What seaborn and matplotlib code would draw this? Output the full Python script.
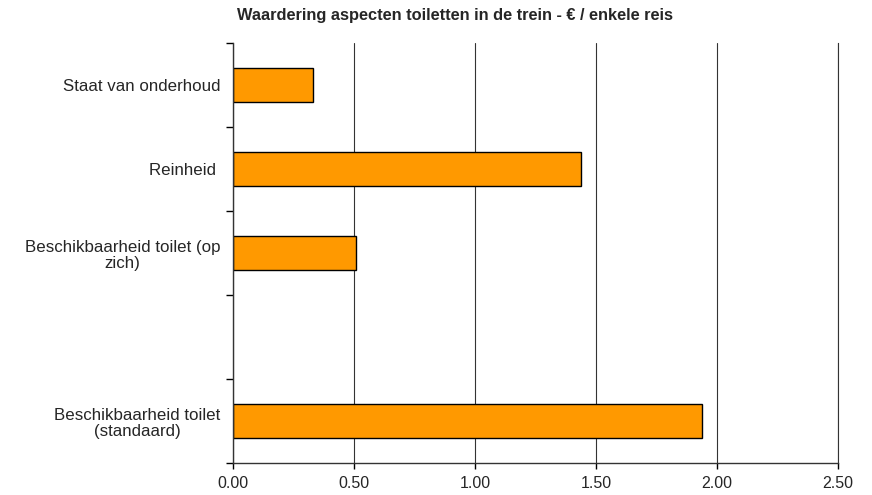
import pandas as pd
import seaborn as sns
import matplotlib.pyplot as plt
import numpy as np

# waarden (EUR per enkele reis)
aspecten = ['Staat van onderhoud', 'Reinheid ', 'Beschikbaarheid toilet (op\nzich)', ' ',
            'Beschikbaarheid toilet\n(standaard)']
waarde = [0.33, 1.44, 0.51, np.nan, 1.94]
x_ticks = [0.0, 0.5, 1.0, 1.5, 2.0, 2.5]
titel = 'Waardering aspecten toiletten in de trein - € / enkele reis'

df = pd.DataFrame({'aspect': aspecten, 'waarde': waarde})

sns.set_style('white')
plt.rcParams['font.family'] = ['Liberation Sans', 'DejaVu Sans']

fig = plt.figure(figsize=(8.72, 4.95), dpi=100)
ax = fig.add_axes([0.267, 0.0646, 0.694, 0.8485])

sns.barplot(data=df, x='waarde', y='aspect', order=aspecten, orient='h',
            color='#FF9900', saturation=1, width=0.4, edgecolor='black',
            linewidth=1, ax=ax)

ax.set_xlim(0, 2.5)
ax.set_ylim(4.5, -0.5)
ax.set_xticks(x_ticks)
ax.set_xticklabels([f'{v:.2f}' for v in x_ticks], fontsize=11.5)
ax.set_yticks(range(len(aspecten)))
ax.set_yticklabels(aspecten, fontsize=12.2, multialignment='center', linespacing=1.12)
ax.set_yticks(np.arange(-0.5, len(aspecten), 1), minor=True)
ax.tick_params(axis='y', which='major', length=0, pad=9)
ax.tick_params(axis='y', which='minor', length=5, width=1, color='black', direction='out', left=True)
ax.tick_params(axis='x', length=4, width=1, color='black', direction='out', bottom=True, pad=5)

ax.grid(axis='x', color='#333333', linewidth=0.8)
ax.set_axisbelow(True)
ax.set_xlabel('')
ax.set_ylabel('')
ax.spines['top'].set_visible(False)
for side in ['left', 'bottom']:
    ax.spines[side].set_color('#333333')
    ax.spines[side].set_linewidth(1)
ax.spines['right'].set_color('#333333')
ax.spines['right'].set_linewidth(0.8)

fig.text(0.522, 0.968, titel, ha='center', va='center', fontsize=11.8, fontweight='bold')

fig.savefig('out.png', dpi=100)
